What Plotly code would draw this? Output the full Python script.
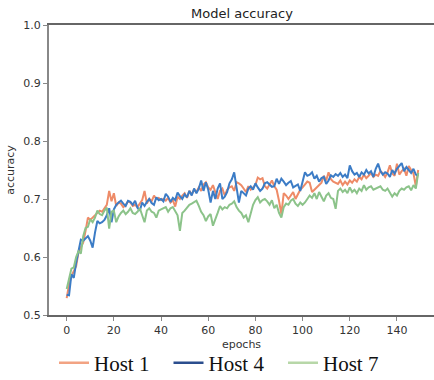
import plotly.graph_objects as go

epochs = list(range(150))

host1 = [
    0.529, 0.553, 0.567, 0.575, 0.584, 0.608, 0.618, 0.625, 0.645, 0.668,
    0.664, 0.668, 0.671, 0.676, 0.680, 0.678, 0.684, 0.690, 0.714, 0.696,
    0.710, 0.688, 0.694, 0.692, 0.686, 0.690, 0.696, 0.694, 0.688, 0.690,
    0.686, 0.692, 0.698, 0.714, 0.692, 0.700, 0.696, 0.706, 0.700, 0.702,
    0.698, 0.700, 0.697, 0.702, 0.694, 0.698, 0.687, 0.704, 0.700, 0.706,
    0.710, 0.702, 0.714, 0.708, 0.716, 0.712, 0.720, 0.714, 0.725, 0.729,
    0.720, 0.716, 0.724, 0.712, 0.700, 0.714, 0.718, 0.706, 0.716, 0.720,
    0.722, 0.714, 0.729, 0.727, 0.724, 0.718, 0.712, 0.722, 0.716, 0.720,
    0.724, 0.737, 0.734, 0.736, 0.722, 0.718, 0.726, 0.732, 0.722, 0.716,
    0.697, 0.674, 0.710, 0.706, 0.700, 0.706, 0.712, 0.700, 0.708, 0.716,
    0.720, 0.726, 0.730, 0.728, 0.712, 0.716, 0.720, 0.724, 0.728, 0.740,
    0.732, 0.746, 0.734, 0.730, 0.728, 0.726, 0.732, 0.724, 0.730, 0.725,
    0.732, 0.728, 0.734, 0.730, 0.738, 0.734, 0.742, 0.736, 0.740, 0.745,
    0.738, 0.742, 0.740, 0.748, 0.744, 0.738, 0.746, 0.758, 0.744, 0.740,
    0.761, 0.742, 0.748, 0.752, 0.740, 0.757, 0.750, 0.744, 0.722, 0.750,
]

host4 = [
    0.535, 0.534, 0.570, 0.564, 0.590, 0.612, 0.630, 0.628, 0.632, 0.636,
    0.628, 0.616, 0.642, 0.662, 0.658, 0.660, 0.664, 0.672, 0.684, 0.660,
    0.682, 0.690, 0.694, 0.697, 0.692, 0.688, 0.697, 0.695, 0.690, 0.697,
    0.685, 0.680, 0.694, 0.688, 0.695, 0.700, 0.693, 0.690, 0.703, 0.698,
    0.700, 0.696, 0.709, 0.704, 0.695, 0.702, 0.698, 0.711, 0.705, 0.700,
    0.708, 0.703, 0.714, 0.706, 0.718, 0.710, 0.718, 0.732, 0.714, 0.729,
    0.716, 0.694, 0.714, 0.700, 0.718, 0.727, 0.700, 0.704, 0.712, 0.727,
    0.734, 0.746, 0.720, 0.694, 0.714, 0.710, 0.706, 0.718, 0.722, 0.716,
    0.727, 0.720, 0.714, 0.718, 0.727, 0.729, 0.724, 0.721, 0.722, 0.735,
    0.726, 0.735, 0.730, 0.724, 0.728, 0.731, 0.720, 0.723, 0.725, 0.714,
    0.733, 0.746, 0.740, 0.742, 0.746, 0.735, 0.740, 0.730, 0.736, 0.738,
    0.726, 0.732, 0.741, 0.738, 0.743, 0.740, 0.745, 0.738, 0.742, 0.736,
    0.758, 0.748, 0.742, 0.745, 0.738, 0.746, 0.742, 0.750, 0.744, 0.748,
    0.738, 0.752, 0.761, 0.748, 0.742, 0.746, 0.744, 0.738, 0.750, 0.744,
    0.752, 0.758, 0.762, 0.748, 0.755, 0.750, 0.745, 0.752, 0.742, 0.740,
]

host7 = [
    0.545, 0.565, 0.580, 0.582, 0.600, 0.610, 0.606, 0.636, 0.650, 0.652,
    0.665, 0.660, 0.668, 0.680, 0.674, 0.672, 0.680, 0.685, 0.649, 0.678,
    0.680, 0.660, 0.670, 0.676, 0.680, 0.674, 0.678, 0.684, 0.676, 0.674,
    0.678, 0.684, 0.672, 0.660, 0.680, 0.684, 0.678, 0.676, 0.668, 0.680,
    0.682, 0.684, 0.686, 0.678, 0.684, 0.686, 0.678, 0.672, 0.645, 0.676,
    0.680, 0.686, 0.690, 0.692, 0.694, 0.697, 0.688, 0.678, 0.672, 0.662,
    0.670, 0.674, 0.654, 0.664, 0.676, 0.688, 0.682, 0.686, 0.684, 0.690,
    0.692, 0.696, 0.686, 0.680, 0.676, 0.668, 0.672, 0.660, 0.674, 0.690,
    0.698, 0.703, 0.694, 0.698, 0.700, 0.696, 0.690, 0.698, 0.684, 0.690,
    0.676, 0.668, 0.686, 0.692, 0.690, 0.697, 0.700, 0.692, 0.688, 0.694,
    0.690, 0.694, 0.700, 0.706, 0.702, 0.710, 0.700, 0.712, 0.704, 0.696,
    0.706, 0.710, 0.702, 0.700, 0.683, 0.714, 0.718, 0.712, 0.716, 0.710,
    0.720, 0.712, 0.716, 0.710, 0.718, 0.714, 0.724, 0.716, 0.720, 0.722,
    0.716, 0.718, 0.720, 0.722, 0.716, 0.714, 0.718, 0.712, 0.704, 0.710,
    0.706, 0.714, 0.718, 0.716, 0.720, 0.722, 0.715, 0.724, 0.718, 0.745,
]

series_names = ["Host 1", "Host 4", "Host 7"]
line_colors = ["#EE8B68", "#3C7CC6", "#8CC38A"]
legend_colors = ["#F2A383", "#2B4E8E", "#B7D7A8"]

x_ticks = [0, 20, 40, 60, 80, 100, 120, 140]
y_ticks = [0.5, 0.6, 0.7, 0.8, 0.9, 1.0]

fig = go.Figure()
for name, ys, c in zip(series_names, [host1, host4, host7], line_colors):
    fig.add_trace(go.Scatter(x=epochs, y=ys, mode="lines", name=name,
                             line=dict(color=c, width=2), showlegend=False))
for name, c in zip(series_names, legend_colors):
    fig.add_trace(go.Scatter(x=[None], y=[None], mode="lines", name=name,
                             line=dict(color=c, width=2.5), showlegend=True))

fig.update_layout(
    width=434, height=380,
    margin=dict(l=49, r=0, t=25, b=65, autoexpand=False),
    paper_bgcolor="white", plot_bgcolor="white",
    font=dict(family="DejaVu Sans", size=11, color="#333"),
    title=dict(text="Model accuracy", x=242 / 434, xanchor="center",
               y=1 - 13 / 380, yanchor="middle",
               font=dict(family="DejaVu Sans", size=13, color="#222")),
    xaxis=dict(range=[-7.5, 155.7], tickvals=x_ticks, showgrid=False, zeroline=False,
               automargin=False,
               showline=True, linecolor="#666", linewidth=1.5, mirror=True,
               ticks="outside", ticklen=4, tickcolor="#888",
               title=dict(text="epochs", font=dict(size=11, color="#333"), standoff=4)),
    yaxis=dict(range=[0.5, 1.0], tickvals=y_ticks, tickformat=".1f", showgrid=False,
               automargin=False,
               zeroline=False, showline=True, linecolor="#888", linewidth=2,
               ticks="outside", ticklen=4, tickcolor="#888",
               title=dict(text="accuracy", font=dict(size=11, color="#333"), standoff=6)),
    legend=dict(orientation="h", x=5 / 385, xanchor="left",
                y=-48 / 290, yanchor="middle", entrywidth=69.5, entrywidthmode="pixels",
                font=dict(family="Liberation Serif", size=21, color="#111"),
                itemwidth=30, tracegroupgap=0, bgcolor="rgba(0,0,0,0)"),
)

fig.write_html("out.html", config={"displayModeBar": False},
               post_script="document.body.style.margin='0px';document.body.style.overflow='hidden';")
